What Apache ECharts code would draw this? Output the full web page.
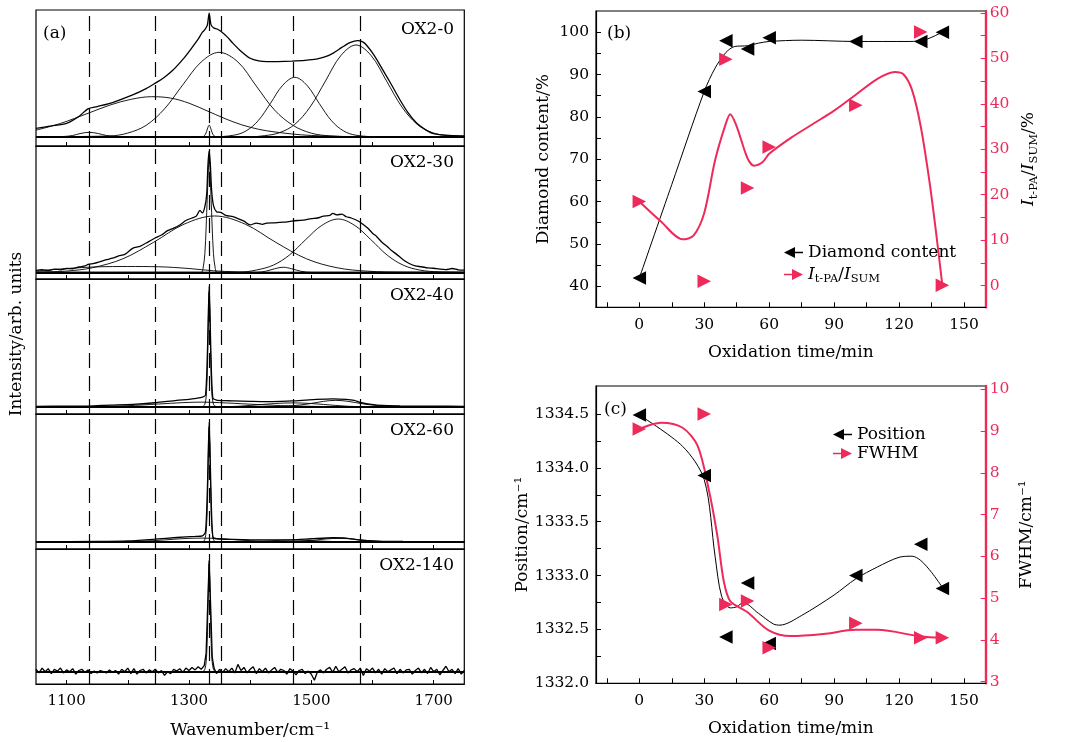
<!DOCTYPE html>
<html>
<head>
<meta charset="utf-8">
<script src="https://cdn.jsdelivr.net/npm/echarts@6/dist/echarts.min.js"></script>
<style>html,body{margin:0;padding:0;background:#fff}#chart{width:1091px;height:742px}</style>
</head>
<body>
<div id="chart"></div>
<script>
var FONT = 'DejaVu Serif'
var RED = '#ee2a5a'

// ---------- (a) Raman spectra, wavenumber / normalised intensity ----------
var peakLines = [1137, 1245, 1333, 1353, 1470, 1580]
var waveTicks = [1100, 1200, 1300, 1400, 1500, 1600, 1700]
var waveLabels = [1100, 1300, 1500, 1700]

var ox0Exp = [[1050,0.066],[1075,0.085],[1100,0.106],[1120,0.16],[1135,0.22],[1150,0.238],[1175,0.27],[1208,0.33],[1230,0.38],[1244,0.42],[1260,0.47],[1274,0.526],[1290,0.61],[1302,0.684],[1315,0.77],[1322,0.825],[1326,0.845],[1330,0.88],[1333,0.975],[1336,0.885],[1340,0.86],[1346,0.85],[1353,0.829],[1362,0.79],[1372,0.737],[1385,0.675],[1400,0.619],[1414,0.598],[1427,0.592],[1445,0.593],[1468,0.597],[1490,0.603],[1508,0.612],[1522,0.63],[1535,0.658],[1550,0.705],[1563,0.742],[1576,0.758],[1584,0.748],[1590,0.724],[1603,0.64],[1617,0.526],[1631,0.41],[1645,0.29],[1658,0.19],[1672,0.108],[1685,0.06],[1698,0.027],[1720,0.012],[1750,0.006]]
var ox0Fit1137 = [[1050,0],[1095,0.002],[1110,0.01],[1122,0.025],[1137,0.035],[1152,0.025],[1165,0.01],[1180,0.002],[1200,0],[1750,0]]
var ox0Fit1240 = [[1050,0.052],[1090,0.105],[1135,0.185],[1171,0.25],[1205,0.295],[1239,0.316],[1270,0.305],[1300,0.265],[1333,0.197],[1372,0.118],[1400,0.075],[1427,0.047],[1468,0.022],[1500,0.01],[1535,0.004],[1600,0],[1750,0]]
var ox0Fit1349 = [[1050,0],[1170,0.006],[1200,0.029],[1230,0.09],[1260,0.22],[1290,0.41],[1320,0.59],[1349,0.666],[1380,0.59],[1410,0.4],[1440,0.21],[1470,0.09],[1500,0.028],[1530,0.007],[1570,0],[1750,0]]
var ox0Fit1473 = [[1050,0],[1340,0],[1373,0.012],[1393,0.045],[1413,0.126],[1433,0.262],[1453,0.405],[1473,0.469],[1493,0.405],[1513,0.262],[1533,0.126],[1553,0.045],[1573,0.012],[1610,0],[1750,0]]
var ox0Fit1573 = [[1050,0],[1400,0],[1423,0.008],[1448,0.032],[1473,0.098],[1498,0.235],[1523,0.439],[1548,0.639],[1573,0.724],[1598,0.639],[1623,0.439],[1648,0.235],[1673,0.098],[1698,0.032],[1723,0.008],[1750,0.002]]
var ox0Fit1333 = [[1050,0],[1322,0],[1327,0.02],[1330,0.06],[1333,0.092],[1336,0.06],[1339,0.02],[1344,0],[1750,0]]

var ox30Exp = [[1050,0.016],[1060,0.022],[1070,0.014],[1080,0.025],[1090,0.02],[1100,0.03],[1110,0.028],[1120,0.042],[1130,0.05],[1135,0.062],[1145,0.07],[1155,0.085],[1165,0.1],[1175,0.112],[1185,0.13],[1195,0.142],[1208,0.19],[1220,0.205],[1230,0.232],[1244,0.27],[1255,0.295],[1265,0.33],[1275,0.35],[1285,0.375],[1295,0.41],[1305,0.43],[1312,0.445],[1318,0.49],[1322,0.47],[1326,0.52],[1329,0.62],[1331,0.85],[1333,0.963],[1335,0.85],[1337,0.652],[1340,0.53],[1345,0.48],[1352,0.475],[1360,0.45],[1372,0.44],[1380,0.425],[1390,0.405],[1400,0.375],[1410,0.39],[1420,0.38],[1427,0.39],[1440,0.392],[1455,0.397],[1468,0.405],[1478,0.41],[1490,0.415],[1500,0.425],[1510,0.43],[1520,0.445],[1530,0.45],[1535,0.467],[1542,0.455],[1550,0.46],[1557,0.44],[1565,0.43],[1575,0.41],[1582,0.388],[1592,0.35],[1600,0.31],[1607,0.282],[1615,0.24],[1625,0.2],[1630,0.177],[1640,0.14],[1650,0.1],[1660,0.07],[1670,0.05],[1680,0.044],[1690,0.035],[1700,0.032],[1710,0.025],[1720,0.022],[1730,0.03],[1740,0.02],[1750,0.018]]
var ox30Fit1342 = [[1050,0.002],[1100,0.01],[1142,0.036],[1192,0.107],[1242,0.237],[1292,0.381],[1342,0.446],[1392,0.381],[1442,0.237],[1492,0.107],[1542,0.036],[1592,0.009],[1650,0.001],[1750,0]]
var ox30Fit1544 = [[1050,0],[1380,0],[1410,0.018],[1438,0.057],[1464,0.136],[1491,0.26],[1517,0.371],[1544,0.422],[1571,0.371],[1597,0.26],[1624,0.136],[1650,0.057],[1677,0.018],[1710,0.003],[1750,0]]
var ox30Fit1200 = [[1050,0.01],[1100,0.03],[1150,0.043],[1200,0.046],[1250,0.044],[1300,0.03],[1340,0.012],[1380,0.003],[1420,0],[1750,0]]
var ox30Fit1454 = [[1050,0],[1410,0],[1425,0.008],[1440,0.028],[1454,0.04],[1468,0.028],[1483,0.008],[1500,0],[1750,0]]
var ox30Fit1333 = [[1050,0],[1320,0],[1323,0.03],[1326,0.15],[1328,0.35],[1330,0.6],[1333,0.9],[1336,0.6],[1338,0.35],[1340,0.15],[1343,0.03],[1346,0],[1750,0]]

var ox40Exp = [[1050,0.003],[1100,0.004],[1135,0.005],[1171,0.012],[1208,0.018],[1244,0.031],[1280,0.05],[1300,0.058],[1312,0.066],[1322,0.075],[1327,0.09],[1330,0.4],[1333,0.942],[1336,0.4],[1339,0.07],[1345,0.052],[1360,0.047],[1372,0.045],[1400,0.042],[1427,0.04],[1450,0.042],[1468,0.045],[1490,0.052],[1508,0.058],[1535,0.062],[1557,0.058],[1570,0.05],[1580,0.033],[1595,0.02],[1607,0.013],[1645,0.006],[1700,0.004],[1750,0.003]]
var ox40Fit1320 = [[1050,0],[1150,0.002],[1200,0.008],[1250,0.021],[1290,0.032],[1320,0.036],[1350,0.032],[1400,0.02],[1450,0.009],[1500,0.003],[1560,0],[1750,0]]
var ox40Fit1540 = [[1050,0],[1440,0],[1470,0.008],[1495,0.022],[1520,0.042],[1540,0.05],[1560,0.042],[1585,0.022],[1610,0.008],[1640,0],[1750,0]]
var ox40Fit1470 = [[1050,0],[1360,0],[1400,0.01],[1440,0.025],[1470,0.03],[1500,0.025],[1540,0.01],[1580,0],[1750,0]]
var ox40Fit1333 = [[1050,0],[1320,0],[1326,0.02],[1329,0.15],[1331,0.5],[1333,0.9],[1335,0.5],[1337,0.15],[1340,0.02],[1346,0],[1750,0]]

var ox60Exp = [[1050,0.002],[1150,0.004],[1200,0.008],[1244,0.022],[1280,0.035],[1310,0.043],[1322,0.048],[1327,0.08],[1330,0.4],[1333,0.937],[1336,0.4],[1339,0.04],[1345,0.025],[1372,0.02],[1420,0.016],[1468,0.017],[1500,0.025],[1535,0.033],[1557,0.03],[1580,0.014],[1607,0.007],[1650,0.004],[1750,0.003]]
var ox60Fit1320 = [[1050,0],[1180,0.001],[1220,0.005],[1260,0.016],[1290,0.026],[1320,0.03],[1350,0.026],[1380,0.016],[1420,0.005],[1460,0.001],[1500,0],[1750,0]]
var ox60Fit1545 = [[1050,0],[1450,0],[1475,0.004],[1500,0.012],[1525,0.024],[1545,0.028],[1565,0.024],[1590,0.012],[1615,0.004],[1640,0],[1750,0]]
var ox60Fit1470 = [[1050,0],[1380,0],[1420,0.006],[1450,0.013],[1470,0.015],[1490,0.013],[1520,0.006],[1560,0],[1750,0]]
var ox60Fit1333 = [[1050,0],[1321,0],[1326,0.02],[1329,0.15],[1331,0.5],[1333,0.9],[1335,0.5],[1337,0.15],[1340,0.02],[1345,0],[1750,0]]

var ox140Exp = [[1050,0.02],[1055,-0.01],[1060,0.03],[1065,0],[1070,0.025],[1075,-0.015],[1080,0.02],[1085,0.005],[1090,0.03],[1095,-0.01],[1100,0.015],[1105,0],[1110,0.025],[1115,-0.02],[1120,0.01],[1125,0.02],[1130,-0.005],[1135,0.015],[1140,-0.015],[1145,0.005],[1150,-0.01],[1155,0.01],[1160,0],[1165,-0.01],[1170,0.015],[1175,-0.005],[1180,0.01],[1185,-0.02],[1190,0.02],[1195,0],[1200,0.03],[1205,-0.015],[1210,0.025],[1215,-0.02],[1220,0.01],[1225,0.02],[1230,-0.01],[1235,0.015],[1240,0],[1245,0.02],[1250,-0.01],[1255,0.01],[1260,-0.03],[1265,0],[1270,-0.015],[1275,0.02],[1280,0.005],[1285,0.025],[1290,-0.005],[1295,0.03],[1300,0.01],[1305,0.035],[1310,0.015],[1315,0.04],[1320,0.02],[1325,0.05],[1328,0.15],[1330,0.45],[1333,0.907],[1336,0.45],[1338,0.12],[1341,0.03],[1345,-0.015],[1350,0.02],[1355,-0.005],[1360,0.025],[1365,0],[1370,0.03],[1375,-0.01],[1380,0.06],[1385,0.01],[1390,0.035],[1395,-0.01],[1400,0.02],[1405,0.04],[1410,-0.015],[1415,0.025],[1420,0],[1425,0.03],[1430,-0.01],[1435,0.015],[1440,0.035],[1445,-0.005],[1450,0.02],[1455,0.01],[1460,-0.02],[1465,0.025],[1470,0.005],[1475,-0.025],[1480,0.01],[1485,0.02],[1490,-0.015],[1495,0.005],[1500,-0.02],[1505,-0.07],[1510,0],[1515,0.015],[1520,-0.01],[1525,0.02],[1530,0.035],[1535,-0.005],[1540,0.045],[1545,0],[1550,0.02],[1555,0.04],[1560,-0.01],[1565,0.015],[1570,0.025],[1575,0],[1580,0.03],[1585,-0.03],[1590,0.025],[1595,0.005],[1600,0.03],[1605,-0.01],[1610,0.02],[1615,-0.02],[1620,0.025],[1625,0],[1630,0.015],[1635,0.03],[1640,-0.015],[1645,0.02],[1650,-0.01],[1655,0.015],[1660,0.02],[1665,-0.02],[1670,0.01],[1675,0.03],[1680,-0.01],[1685,0.02],[1690,-0.015],[1695,0.035],[1700,0],[1705,0.02],[1710,-0.025],[1715,0.01],[1720,0.045],[1725,0],[1730,0.02],[1735,-0.015],[1740,0.025],[1745,-0.02],[1750,0.01]]
var ox140Fit1333 = [[1050,0],[1321,0],[1326,0.02],[1329,0.15],[1331,0.5],[1333,0.88],[1335,0.5],[1337,0.15],[1340,0.02],[1345,0],[1750,0]]

var spectra = [
  { name: 'OX2-0', exp: ox0Exp, fits: [ox0Fit1137, ox0Fit1240, ox0Fit1349, ox0Fit1473, ox0Fit1573, ox0Fit1333] },
  { name: 'OX2-30', exp: ox30Exp, fits: [ox30Fit1342, ox30Fit1544, ox30Fit1200, ox30Fit1454, ox30Fit1333] },
  { name: 'OX2-40', exp: ox40Exp, fits: [ox40Fit1320, ox40Fit1540, ox40Fit1470, ox40Fit1333] },
  { name: 'OX2-60', exp: ox60Exp, fits: [ox60Fit1320, ox60Fit1545, ox60Fit1470, ox60Fit1333] },
  { name: 'OX2-140', exp: ox140Exp, fits: [ox140Fit1333] }
]

// ---------- (b), (c) ----------
var times = [0, 30, 40, 50, 60, 100, 130, 140]
var diamondContent = [41.9, 86.0, 98.0, 96.0, 98.7, 97.8, 97.8, 100]
var tpaRatio = [18.5, 1.0, 49.8, 21.5, 30.5, 39.7, 55.8, 0.1]
var peakPosition = [1334.49, 1333.93, 1332.43, 1332.93, 1332.37, 1333.0, 1333.29, 1332.88]
var peakFwhm = [9.05, 9.41, 4.85, 4.93, 3.81, 4.40, 4.05, 4.05]

var diamondCurve = [[0,41.9],[15,64],[30,86],[35,91.5],[40,95.2],[44,96.6],[50,96.8],[55,97.4],[60,97.8],[75,98.1],[100,97.8],[125,97.8],[132,98.2],[140,100]]
var ratioCurve = [[0,18.5],[10,14.1],[20,10.2],[25,11],[30,16],[35,27.6],[40,35.7],[42,37.7],[45,35],[50,28],[53,26.4],[57,27.2],[60,29],[70,32.5],[80,35.5],[90,38.5],[100,42],[110,45.5],[118,47],[122,46.5],[126,43],[130,35],[134,23],[137,12],[140,0]]
var positionCurve = [[0,1334.49],[20,1334.2],[30,1333.89],[35,1333.18],[38,1332.81],[42,1332.7],[45,1332.71],[48,1332.75],[55,1332.65],[62,1332.55],[65,1332.54],[75,1332.63],[90,1332.82],[100,1332.97],[110,1333.08],[120,1333.17],[126,1333.18],[130,1333.14],[135,1333.03],[140,1332.89]]
var fwhmCurve = [[0,9.05],[10,9.2],[20,9.08],[27,8.64],[32,7.62],[36,6.51],[39,5.41],[42,4.93],[50,4.66],[60,4.22],[70,4.09],[85,4.14],[100,4.24],[110,4.24],[130,4.08],[140,4.05]]

var timeTicks = [-15, 0, 15, 30, 45, 60, 75, 90, 105, 120, 135, 150]
var timeLabels = [0, 30, 60, 90, 120, 150]
var contentTicks = [40, 45, 50, 55, 60, 65, 70, 75, 80, 85, 90, 95, 100]
var contentLabels = [40, 50, 60, 70, 80, 90, 100]
var ratioTicks = [0, 5, 10, 15, 20, 25, 30, 35, 40, 45, 50, 55, 60]
var ratioLabels = [0, 10, 20, 30, 40, 50, 60]
var positionTicks = [1332, 1332.25, 1332.5, 1332.75, 1333, 1333.25, 1333.5, 1333.75, 1334, 1334.25, 1334.5]
var positionLabels = [1332, 1332.5, 1333, 1333.5, 1334, 1334.5]
var fwhmTicks = [3, 4, 5, 6, 7, 8, 9, 10]

function zip(xs, ys) {
  return xs.map(function (x, i) { return [x, ys[i]] })
}
function plain(v) { return String(v) }

var aLayout = [
  { top: 10, height: 136, min: -0.073 },
  { top: 146, height: 133, min: -0.053 },
  { top: 279, height: 135, min: -0.057 },
  { top: 414, height: 135, min: -0.055 },
  { top: 549, height: 135, min: -0.1 }
]

var grids = []
var xAxes = []
var yAxes = []
var series = []
var graphics = []

spectra.forEach(function (sp, i) {
  var lay = aLayout[i]
  var last = i === spectra.length - 1
  grids.push({ left: 36, right: 626.7, top: lay.top, height: lay.height, show: true, borderColor: '#000', borderWidth: 1.2 })
  xAxes.push({
    type: 'value', gridIndex: i, min: 1050, max: 1750,
    axisLine: { show: true, onZero: false, lineStyle: { color: '#000', width: 1.2 } },
    axisTick: { show: true, inside: true, length: 4, customValues: waveTicks, lineStyle: { color: '#000' } },
    axisLabel: { show: last, customValues: waveLabels, margin: 10, color: '#000', fontFamily: FONT, fontSize: 15, formatter: plain },
    splitLine: { show: false },
    name: last ? 'Wavenumber/cm\u207B\u00B9' : '',
    nameLocation: 'middle', nameGap: 38,
    nameTextStyle: { color: '#000', fontFamily: FONT, fontSize: 17 }
  })
  yAxes.push({ type: 'value', gridIndex: i, min: lay.min, max: 1, show: false })
  sp.fits.forEach(function (f) {
    series.push({
      type: 'line', xAxisIndex: i, yAxisIndex: i, data: f, symbol: 'none', smooth: 0.35,
      lineStyle: { color: '#000', width: 0.9 }, silent: true, z: 2
    })
  })
  var marks = peakLines.map(function (v) { return { xAxis: v } })
  marks.push({ yAxis: 0, lineStyle: { type: 'solid', width: 1.8 } })
  series.push({
    type: 'line', xAxisIndex: i, yAxisIndex: i, data: sp.exp, symbol: 'none',
    smooth: i === 4 ? false : 0.25,
    lineStyle: { color: '#000', width: 1.3 }, silent: true, z: 3,
    markLine: {
      silent: true, symbol: ['none', 'none'], label: { show: false },
      lineStyle: { color: '#000', type: [15, 8], width: 1.2 },
      data: marks
    }
  })
  graphics.push({
    type: 'text', x: 454, y: lay.top + (i === 0 ? 20 : 17),
    style: { text: sp.name, fontFamily: FONT, fontSize: 17, fill: '#000', align: 'right', verticalAlign: 'middle' }
  })
})

graphics.push({ type: 'text', x: 43, y: 34, style: { text: '(a)', fontFamily: FONT, fontSize: 17, fill: '#000', align: 'left', verticalAlign: 'middle' } })
graphics.push({ type: 'text', x: 17, y: 334, rotation: Math.PI / 2, style: { text: 'Intensity/arb. units', fontFamily: FONT, fontSize: 17, fill: '#000', align: 'center', verticalAlign: 'middle' } })
graphics.push({ type: 'text', x: 607, y: 34, style: { text: '(b)', fontFamily: FONT, fontSize: 17, fill: '#000', align: 'left', verticalAlign: 'middle' } })
graphics.push({ type: 'text', x: 604, y: 410, style: { text: '(c)', fontFamily: FONT, fontSize: 17, fill: '#000', align: 'left', verticalAlign: 'middle' } })

// panels (b) and (c)
var richName = {
  i: { fontFamily: FONT, fontSize: 17, fontStyle: 'italic', color: '#000', lineHeight: 22, verticalAlign: 'middle' },
  n: { fontFamily: FONT, fontSize: 17, color: '#000', lineHeight: 22, verticalAlign: 'middle' },
  s: { fontFamily: FONT, fontSize: 11.5, color: '#000', lineHeight: 22, verticalAlign: 'bottom' }
}
var tpaLabel = '{i|I}{s|t-PA}{n|/}{i|I}{s|SUM}'

function timeAxis(gi) {
  return {
    type: 'value', gridIndex: gi, min: -20, max: 160,
    axisLine: { show: true, onZero: false, lineStyle: { color: '#000', width: 1.2 } },
    axisTick: { inside: true, length: 5, customValues: timeTicks, lineStyle: { color: '#000' } },
    axisLabel: { customValues: timeLabels, margin: 10, color: '#000', fontFamily: FONT, fontSize: 15.5 },
    splitLine: { show: false },
    name: 'Oxidation time/min', nameLocation: 'middle', nameGap: 37,
    nameTextStyle: { color: '#000', fontFamily: FONT, fontSize: 17 }
  }
}
function sideAxis(gi, side, min, max, ticks, labels, color, name, gap, fmt) {
  return {
    type: 'value', gridIndex: gi, position: side, min: min, max: max,
    axisLine: { show: true, onZero: false, lineStyle: { color: color, width: color === RED ? 2.4 : 1.2 } },
    axisTick: { inside: true, length: 5, customValues: ticks, lineStyle: { color: color } },
    axisLabel: { customValues: labels, margin: side === 'left' ? 7 : 4, color: color, fontFamily: FONT, fontSize: 15.5, formatter: fmt || plain },
    splitLine: { show: false },
    name: name, nameLocation: 'middle', nameGap: gap, nameRotate: 90,
    nameTextStyle: { color: '#000', fontFamily: FONT, fontSize: 17, rich: richName }
  }
}

grids.push({ left: 596, right: 105.3, top: 11, height: 296.3, show: true, borderColor: '#000', borderWidth: 1.2 })
grids.push({ left: 596, right: 105.3, top: 386, height: 297.3, show: true, borderColor: '#000', borderWidth: 1.2 })
xAxes.push(timeAxis(5))
xAxes.push(timeAxis(6))
yAxes.push(sideAxis(5, 'left', 35, 105, contentTicks, contentLabels, '#000', 'Diamond content/%', 44))
yAxes.push(sideAxis(5, 'right', -4.75, 60.4, ratioTicks, ratioLabels, RED, tpaLabel + '{n|/%}', 32))
yAxes.push(sideAxis(6, 'left', 1332, 1334.76, positionTicks, positionLabels, '#000', 'Position/cm\u207B\u00B9', 62, function (v) { return v.toFixed(1) }))
yAxes.push(sideAxis(6, 'right', 2.96, 10.08, fwhmTicks, fwhmTicks, RED, 'FWHM/cm\u207B\u00B9', 32))

function curve(xi, yi, data, color, width) {
  return { type: 'line', xAxisIndex: xi, yAxisIndex: yi, data: data, symbol: 'none', smooth: 0.3, lineStyle: { color: color, width: width }, silent: true, z: 2 }
}
function marks(name, xi, yi, data, color, rot) {
  return { name: name, type: 'scatter', xAxisIndex: xi, yAxisIndex: yi, data: data, symbol: 'triangle', symbolRotate: rot, symbolSize: 13.5, itemStyle: { color: color, opacity: 1 }, z: 4 }
}

series.push(curve(5, 5, diamondCurve, '#000', 1))
series.push(curve(5, 6, ratioCurve, RED, 2))
series.push(marks('Diamond content', 5, 5, zip(times, diamondContent), '#000', 90))
series.push(marks('tpa', 5, 6, zip(times, tpaRatio), RED, -90))
series.push(curve(6, 7, positionCurve, '#000', 1))
series.push(curve(6, 8, fwhmCurve, RED, 2))
series.push(marks('Position', 6, 7, zip(times, peakPosition), '#000', 90))
series.push(marks('FWHM', 6, 8, zip(times, peakFwhm), RED, -90))

var leftIcon = 'path://M0,5.5L11,0L11,4.8L19,4.8L19,6.2L11,6.2L11,11Z'
var rightIcon = 'path://M19,5.5L8,0L8,4.8L0,4.8L0,6.2L8,6.2L8,11Z'
var legendText = { fontFamily: FONT, fontSize: 17, color: '#000', rich: richName }
function legendFmt(name) { return name === 'tpa' ? tpaLabel : '{n|' + name + '}' }

var myChart = echarts.init(document.getElementById('chart'))
myChart.setOption({
  animation: false,
  backgroundColor: '#fff',
  grid: grids,
  xAxis: xAxes,
  yAxis: yAxes,
  legend: [
    { data: [{ name: 'Diamond content', icon: leftIcon }, { name: 'tpa', icon: rightIcon }], orient: 'vertical', left: 779, top: 239, itemWidth: 19, itemHeight: 11, itemGap: 5, selectedMode: false, textStyle: legendText, formatter: legendFmt },
    { data: [{ name: 'Position', icon: leftIcon }, { name: 'FWHM', icon: rightIcon }], orient: 'vertical', left: 828, top: 421, itemWidth: 19, itemHeight: 11, itemGap: 2, selectedMode: false, textStyle: legendText, formatter: legendFmt }
  ],
  graphic: graphics,
  series: series
})
</script>
</body>
</html>
